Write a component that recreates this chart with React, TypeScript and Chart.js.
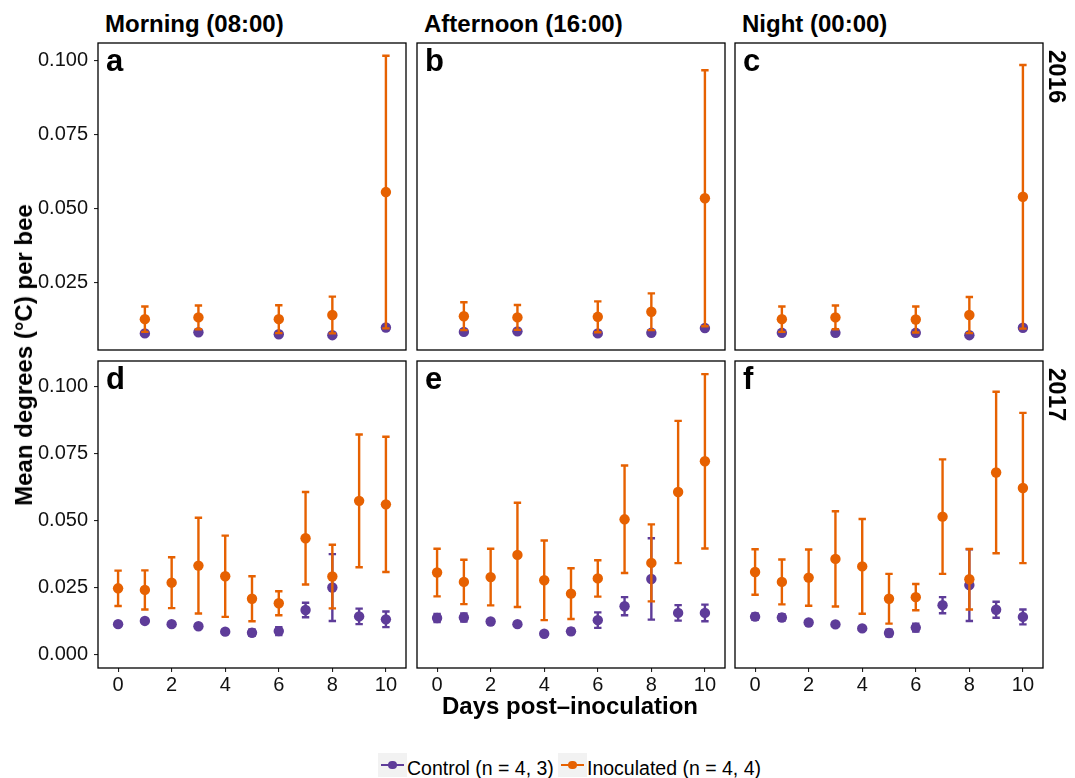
import React, { useEffect, useRef } from "react";
import { Chart, registerables } from "chart.js";

Chart.register(...registerables);

// ---------------- data ----------------
const days2016 = [1, 3, 6, 8, 10];
const days2017 = [0, 1, 2, 3, 4, 5, 6, 7, 8, 9, 10];
const xTickValues = [0, 2, 4, 6, 8, 10];
const yTicks2016 = [0.025, 0.05, 0.075, 0.1];
const yTicks2017 = [0, 0.025, 0.05, 0.075, 0.1];
const timeLabels = ["Morning (08:00)", "Afternoon (16:00)", "Night (00:00)"];
const yearLabels = ["2016", "2017"];
const panelLetters = ["a", "b", "c", "d", "e", "f"];
const seriesNames = ["Control (n = 4, 3)", "Inoculated (n = 4, 4)"];
const xTitle = "Days post–inoculation";
const yTitle = "Mean degrees (°C) per bee";

// 2016 (days 1,3,6,8,10)
const ctrlMorning2016 = [0.0078, 0.0082, 0.0075, 0.0072, 0.0098];
const ctrlMorning2016Err = [0.0005, 0.0005, 0.0005, 0.0005, 0.0005];
const inocMorning2016 = [0.0126, 0.0132, 0.0126, 0.014, 0.0555];
const inocMorning2016Err = [0.0043, 0.004, 0.0047, 0.0062, 0.046];

const ctrlAfternoon2016 = [0.0083, 0.0085, 0.0078, 0.008, 0.0096];
const ctrlAfternoon2016Err = [0.0005, 0.0005, 0.0005, 0.0005, 0.0005];
const inocAfternoon2016 = [0.0136, 0.0132, 0.0134, 0.0151, 0.0534];
const inocAfternoon2016Err = [0.0047, 0.0042, 0.0052, 0.0062, 0.0432];

const ctrlNight2016 = [0.008, 0.008, 0.008, 0.0072, 0.0097];
const ctrlNight2016Err = [0.0005, 0.0005, 0.0005, 0.0005, 0.0005];
const inocNight2016 = [0.0126, 0.0132, 0.0125, 0.014, 0.0539];
const inocNight2016Err = [0.0043, 0.004, 0.0044, 0.0061, 0.0445];

// 2017 (days 0..10)
const ctrlMorning2017 = [0.0113, 0.0125, 0.0113, 0.0105, 0.0085, 0.0081, 0.0087, 0.0166, 0.025, 0.0142, 0.0131];
const ctrlMorning2017Err = [0.0006, 0.0006, 0.0006, 0.0006, 0.0007, 0.0012, 0.0015, 0.0027, 0.0125, 0.0029, 0.0029];
const inocMorning2017 = [0.0247, 0.0241, 0.0268, 0.0332, 0.0292, 0.0208, 0.0191, 0.0434, 0.0291, 0.0574, 0.0561];
const inocMorning2017Err = [0.0066, 0.0073, 0.0095, 0.0179, 0.0152, 0.0084, 0.0045, 0.0173, 0.0119, 0.0248, 0.0253];

const ctrlAfternoon2017 = [0.0136, 0.0138, 0.0123, 0.0113, 0.0077, 0.0086, 0.0128, 0.018, 0.0282, 0.0155, 0.0155];
const ctrlAfternoon2017Err = [0.0015, 0.0015, 0.0006, 0.0006, 0.0006, 0.001, 0.0029, 0.0034, 0.0152, 0.0029, 0.0031];
const inocAfternoon2017 = [0.0306, 0.0271, 0.0289, 0.0372, 0.0277, 0.0227, 0.0284, 0.0505, 0.0342, 0.0607, 0.0722];
const inocAfternoon2017Err = [0.0089, 0.0083, 0.0106, 0.0195, 0.0149, 0.0095, 0.0068, 0.0201, 0.0144, 0.0266, 0.0326];

const ctrlNight2017 = [0.0141, 0.0138, 0.0119, 0.0112, 0.0097, 0.008, 0.01, 0.0184, 0.0259, 0.0167, 0.014];
const ctrlNight2017Err = [0.0012, 0.0012, 0.0006, 0.0006, 0.0006, 0.0012, 0.0015, 0.003, 0.0134, 0.003, 0.0028];
const inocNight2017 = [0.0308, 0.0271, 0.0287, 0.0357, 0.0329, 0.0208, 0.0214, 0.0515, 0.0281, 0.068, 0.0622];
const inocNight2017Err = [0.0085, 0.0084, 0.0105, 0.0178, 0.0177, 0.0093, 0.0049, 0.0214, 0.0113, 0.0302, 0.0281];

const xRange = [-0.75, 10.75];
const yRange2016 = [0.0022, 0.1058];
const yRange2017 = [-0.0051, 0.1097];

// ---------------- styles / layout ----------------
const PURPLE = "#5e3c99";
const ORANGE = "#e66101";
const FONT = "'Liberation Sans', Arial, Helvetica, sans-serif";
const COL_LEFT = [98, 417, 735];
const ROW_TOP = [43, 361];
const PW = 308;
const PH = 307;
const PAD = 3;
const YAXIS_W = 95;
const XAXIS_H = 36;

type PanelDef = {
  row: number;
  col: number;
  letter: string;
  x: number[];
  ctrl: number[];
  ctrlErr: number[];
  inoc: number[];
  inocErr: number[];
  yRange: number[];
  yTicks: number[];
};

const rowDefs = [
  {
    x: days2016,
    yRange: yRange2016,
    yTicks: yTicks2016,
    series: [
      [ctrlMorning2016, ctrlMorning2016Err, inocMorning2016, inocMorning2016Err],
      [ctrlAfternoon2016, ctrlAfternoon2016Err, inocAfternoon2016, inocAfternoon2016Err],
      [ctrlNight2016, ctrlNight2016Err, inocNight2016, inocNight2016Err],
    ],
  },
  {
    x: days2017,
    yRange: yRange2017,
    yTicks: yTicks2017,
    series: [
      [ctrlMorning2017, ctrlMorning2017Err, inocMorning2017, inocMorning2017Err],
      [ctrlAfternoon2017, ctrlAfternoon2017Err, inocAfternoon2017, inocAfternoon2017Err],
      [ctrlNight2017, ctrlNight2017Err, inocNight2017, inocNight2017Err],
    ],
  },
];

const panels: PanelDef[] = [];
rowDefs.forEach((rd, r) => {
  rd.series.forEach((s, c) => {
    panels.push({
      row: r,
      col: c,
      letter: panelLetters[r * 3 + c],
      x: rd.x,
      ctrl: s[0],
      ctrlErr: s[1],
      inoc: s[2],
      inocErr: s[3],
      yRange: rd.yRange,
      yTicks: rd.yTicks,
    });
  });
});

const errorBarPlugin = {
  id: "errorBars",
  beforeDatasetDraw(chart: any, args: any) {
    const ds = chart.data.datasets[args.index];
    const errs: number[] | undefined = ds.errors;
    if (!errs) return;
    const xs = chart.scales.x;
    const ys = chart.scales.y;
    const ctx = chart.ctx;
    ctx.save();
    ctx.strokeStyle = ds.borderColor;
    ctx.lineWidth = 2.4;
    ctx.lineCap = "butt";
    const cap = 3.7;
    ds.data.forEach((p: any, i: number) => {
      const e = errs[i];
      const px = xs.getPixelForValue(p.x);
      const y1 = ys.getPixelForValue(p.y - e);
      const y2 = ys.getPixelForValue(p.y + e);
      ctx.beginPath();
      ctx.moveTo(px, y1);
      ctx.lineTo(px, y2);
      ctx.moveTo(px - cap, y1);
      ctx.lineTo(px + cap, y1);
      ctx.moveTo(px - cap, y2);
      ctx.lineTo(px + cap, y2);
      ctx.stroke();
    });
    ctx.restore();
  },
};

const framePlugin = {
  id: "frame",
  afterDraw(chart: any) {
    const { ctx, chartArea } = chart;
    const letter = chart.options.plugins.frame?.letter;
    ctx.save();
    ctx.strokeStyle = "#000";
    ctx.lineWidth = 1.3;
    ctx.strokeRect(chartArea.left, chartArea.top, chartArea.right - chartArea.left, chartArea.bottom - chartArea.top);
    if (letter) {
      ctx.fillStyle = "#000";
      ctx.font = `bold 31px ${FONT}`;
      ctx.textBaseline = "alphabetic";
      ctx.textAlign = "left";
      ctx.fillText(letter, chartArea.left + 8, chartArea.top + 27.5);
    }
    ctx.restore();
  },
};

function Panel({ p }: { p: PanelDef }) {
  const ref = useRef<HTMLCanvasElement>(null);
  const showY = p.col === 0;
  const showX = p.row === 1;
  const cw = PW + 2 * PAD + (showY ? YAXIS_W : 0);
  const ch = PH + 2 * PAD + (showX ? XAXIS_H : 0);
  const left = COL_LEFT[p.col] - PAD - (showY ? YAXIS_W : 0);
  const top = ROW_TOP[p.row] - PAD;

  useEffect(() => {
    const tickFont = { family: FONT, size: 20 };
    const chart = new Chart(ref.current as HTMLCanvasElement, {
      type: "scatter",
      data: {
        datasets: [
          {
            label: seriesNames[0],
            data: p.x.map((x, i) => ({ x, y: p.ctrl[i] })),
            errors: p.ctrlErr,
            backgroundColor: PURPLE,
            borderColor: PURPLE,
            pointRadius: 5.2,
            pointHoverRadius: 5.2,
            pointBorderWidth: 0,
            order: 2,
          } as any,
          {
            label: seriesNames[1],
            data: p.x.map((x, i) => ({ x, y: p.inoc[i] })),
            errors: p.inocErr,
            backgroundColor: ORANGE,
            borderColor: ORANGE,
            pointRadius: 5.2,
            pointHoverRadius: 5.2,
            pointBorderWidth: 0,
            order: 1,
          } as any,
        ],
      },
      options: {
        responsive: false,
        animation: false,
        devicePixelRatio: 1,
        events: [],
        layout: { padding: PAD, autoPadding: false } as any,
        plugins: {
          legend: { display: false },
          tooltip: { enabled: false },
          frame: { letter: p.letter },
        } as any,
        scales: {
          x: {
            type: "linear",
            min: xRange[0],
            max: xRange[1],
            display: showX,
            afterBuildTicks: (s: any) => {
              s.ticks = xTickValues.map((v) => ({ value: v }));
            },
            afterFit: (s: any) => {
              if (showX) s.height = XAXIS_H;
              s.paddingLeft = 0;
              s.paddingRight = 0;
              s.paddingTop = 0;
              s.paddingBottom = 0;
            },
            grid: { drawOnChartArea: false, drawTicks: true, tickLength: 4, color: "#222", lineWidth: 1.1 },
            border: { display: false },
            ticks: {
              font: tickFont,
              color: "#111",
              padding: 1.5,
              maxRotation: 0,
              autoSkip: false,
              callback: (v: any) => String(v),
            },
          },
          y: {
            type: "linear",
            min: p.yRange[0],
            max: p.yRange[1],
            display: showY,
            afterBuildTicks: (s: any) => {
              s.ticks = p.yTicks.map((v) => ({ value: v }));
            },
            afterFit: (s: any) => {
              if (showY) s.width = YAXIS_W;
              s.paddingLeft = 0;
              s.paddingRight = 0;
              s.paddingTop = 0;
              s.paddingBottom = 0;
            },
            grid: { drawOnChartArea: false, drawTicks: true, tickLength: 4, color: "#222", lineWidth: 1.1 },
            border: { display: false },
            ticks: {
              font: tickFont,
              color: "#111",
              padding: 6,
              autoSkip: false,
              callback: (v: any) => Number(v).toFixed(3),
            },
          },
        },
      },
      plugins: [errorBarPlugin, framePlugin],
    });
    return () => chart.destroy();
  }, []);

  return (
    <canvas
      ref={ref}
      width={cw}
      height={ch}
      style={{ position: "absolute", left, top, width: cw, height: ch }}
    />
  );
}

function LegendKey({ left, color }: { left: number; color: string }) {
  return (
    <div style={{ position: "absolute", left, top: 753, width: 29, height: 24, background: "#f2f2f2" }}>
      <div style={{ position: "absolute", left: 3, top: 10.8, width: 23, height: 2.5, background: color }} />
      <div
        style={{
          position: "absolute",
          left: 14.5 - 4.3,
          top: 12 - 4.3,
          width: 8.6,
          height: 8.6,
          borderRadius: "50%",
          background: color,
        }}
      />
    </div>
  );
}

export default function App() {
  const textBase: React.CSSProperties = {
    position: "absolute",
    fontFamily: FONT,
    color: "#000",
    lineHeight: 1,
    whiteSpace: "nowrap",
    margin: 0,
  };
  return (
    <div style={{ position: "absolute", left: 0, top: 0, width: 1075, height: 778, background: "#fff", overflow: "hidden" }}>
      {panels.map((p) => (
        <Panel key={p.letter} p={p} />
      ))}
      {timeLabels.map((t, i) => (
        <div key={t} style={{ ...textBase, left: COL_LEFT[i] + 7, top: 12, fontSize: 24, fontWeight: "bold" }}>
          {t}
        </div>
      ))}
      {yearLabels.map((t, i) => (
        <div
          key={t}
          style={{
            ...textBase,
            left: 1068.5,
            top: ROW_TOP[i] + 7,
            fontSize: 24,
            fontWeight: "bold",
            transformOrigin: "0 0",
            transform: "rotate(90deg)",
          }}
        >
          {t}
        </div>
      ))}
      <div
        style={{
          ...textBase,
          left: 24,
          top: 355,
          fontSize: 24,
          fontWeight: "bold",
          transform: "translate(-50%, -50%) rotate(-90deg)",
        }}
      >
        {yTitle}
      </div>
      <div
        style={{
          ...textBase,
          left: 570,
          top: 694,
          fontSize: 24,
          fontWeight: "bold",
          transform: "translateX(-50%)",
        }}
      >
        {xTitle}
      </div>
      <LegendKey left={378} color={PURPLE} />
      <div style={{ ...textBase, left: 407, top: 758.5, fontSize: 19.5 }}>{seriesNames[0]}</div>
      <LegendKey left={558} color={ORANGE} />
      <div style={{ ...textBase, left: 587, top: 758.5, fontSize: 19.5 }}>{seriesNames[1]}</div>
    </div>
  );
}
